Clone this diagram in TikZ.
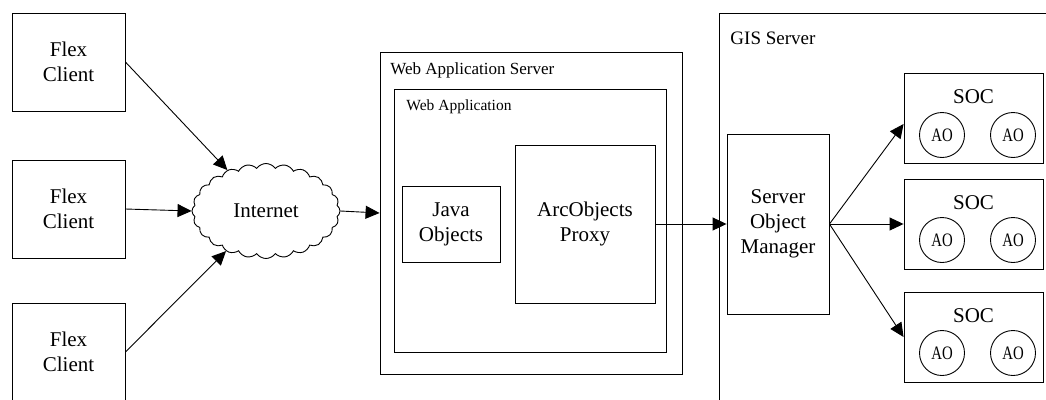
\documentclass[tikz,border=0pt]{standalone}
\usepackage{fontspec}
\usepackage{graphicx}
\setmainfont{Liberation Serif}
\usetikzlibrary{arrows.meta, shapes.symbols}

\begin{document}
\begin{tikzpicture}[x=1pt, y=-1pt, line width=0.9pt,
    box/.style = {draw, rectangle, align=center, inner sep=0pt, font=\fontsize{21}{25}\selectfont},
    tag/.style = {anchor=north west, inner sep=0pt},
    ao/.style = {draw, circle, minimum size=45pt, inner sep=0pt, font=\fontsize{19}{19}\selectfont},
    conn/.style = {-{Triangle[length=14pt, width=13pt]}}]
    \useasboundingbox (0,0) rectangle (1046,399);

    % clients and cloud
    \node[box, minimum width=113pt, minimum height=98pt] (fc1) at (68.5,62) {Flex\\Client};
    \node[box, minimum width=113pt, minimum height=98pt] (fc2) at (68.5,209) {Flex\\Client};
    \node[box, minimum width=113pt, minimum height=98pt] (fc3) at (68.5,352) {Flex\\Client};
    \node[cloud, draw, cloud puffs=24, cloud puff arc=110, aspect=1.6, minimum width=148pt,
          minimum height=95pt, inner sep=0pt, font=\fontsize{21}{25}\selectfont] (net) at (266,211) {Internet};

    % web application server
    \node[box, minimum width=302pt, minimum height=322pt] (was) at (531,213) {};
    \node[tag, font=\fontsize{17}{17}\selectfont] (waslbl) at (390,62) {Web Application Server};
    \node[box, minimum width=272pt, minimum height=263pt] (wapp) at (530,220.5) {};
    \node[tag, font=\fontsize{15.5}{15.5}\selectfont] (wapplbl) at (406,99) {Web Application};
    \node[box, minimum width=98pt, minimum height=76pt] (java) at (451,224) {Java\\Objects};
    \node[box, minimum width=140pt, minimum height=158pt] (proxy) at (585,224) {ArcObjects\\Proxy};

    % gis server
    \node[box, minimum width=340pt, minimum height=400pt] (gis) at (889,213) {};
    \node[tag, font=\fontsize{19}{19}\selectfont] (gislbl) at (730,31) {GIS Server};
    \node[box, minimum width=102pt, minimum height=180pt] (som) at (778,224) {Server\\Object\\Manager};

    \node[box, minimum width=139pt, minimum height=90pt] (soc1) at (973.5,118) {};
    \node[font=\fontsize{21}{21}\selectfont] (soc1lbl) at (973.5,96.5) {SOC};
    \node[ao] (ao1a) at (942,135) {\scalebox{0.78}[1]{AO}};
    \node[ao] (ao1b) at (1013,135) {\scalebox{0.78}[1]{AO}};

    \node[box, minimum width=139pt, minimum height=90pt] (soc2) at (973.5,224) {};
    \node[font=\fontsize{21}{21}\selectfont] (soc2lbl) at (973.5,202.5) {SOC};
    \node[ao] (ao2a) at (942,240) {\scalebox{0.78}[1]{AO}};
    \node[ao] (ao2b) at (1013,240) {\scalebox{0.78}[1]{AO}};

    \node[box, minimum width=139pt, minimum height=90pt] (soc3) at (973.5,337) {};
    \node[font=\fontsize{21}{21}\selectfont] (soc3lbl) at (973.5,315.5) {SOC};
    \node[ao] (ao3a) at (942,353) {\scalebox{0.78}[1]{AO}};
    \node[ao] (ao3b) at (1013,353) {\scalebox{0.78}[1]{AO}};

    \draw[conn] (fc1.east) -- (net);
    \draw[conn] (fc2.east) -- (net.west);
    \draw[conn] (fc3.east) -- (net);
    \draw[conn] (net.east) -- (was.west);
    \draw[conn] (proxy.east) -- (som.west);
    \draw[conn] (som.east) -- ([yshift=-6pt]soc1.west);
    \draw[conn] (som.east) -- (soc2.west);
    \draw[conn] (som.east) -- (soc3.west);
\end{tikzpicture}
\end{document}
